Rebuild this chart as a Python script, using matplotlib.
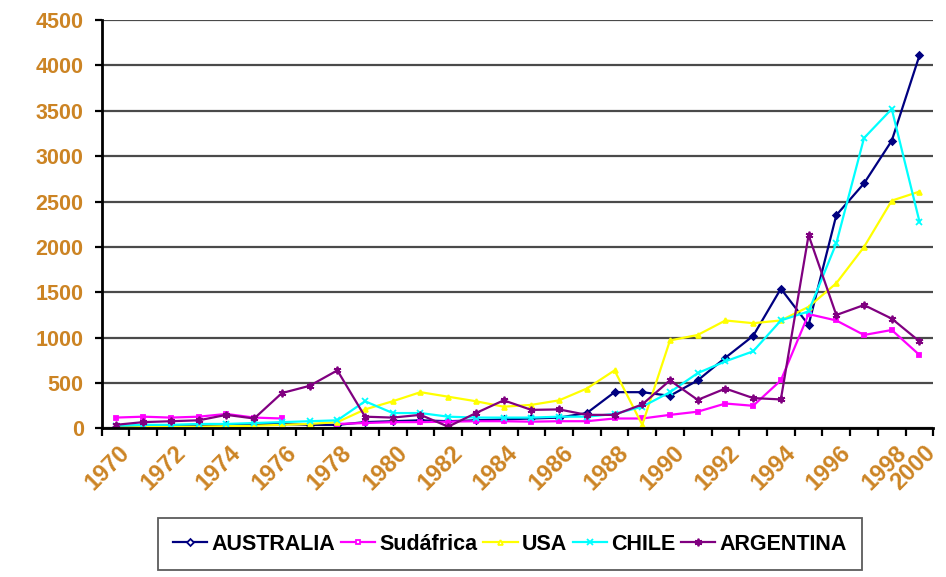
import numpy as np
import matplotlib
matplotlib.use('Agg')
import matplotlib.pyplot as plt
from matplotlib.transforms import ScaledTranslation

plt.rcParams['font.family'] = ['Liberation Sans', 'DejaVu Sans']

years = list(range(1970, 2000))
nan = np.nan

# valores (aprox.)
australia = [20, 30, 30, 40, 40, 50, 50, 40, 40, 70,
             80, 90, 80, 90, 100, 110, 120, 170, 400, 400,
             360, 530, 780, 1020, 1540, 1140, 2350, 2700, 3170, 4110]
sudafrica = [120, 130, 120, 130, 160, 120, 110, nan, 50, 60,
             70, 70, 75, 80, 80, 75, 80, 80, 110, 110,
             150, 185, 275, 250, 530, 1260, 1190, 1030, 1085, 810]
usa = [10, 15, 20, 20, 25, 30, 40, 50, 70, 210,
       300, 400, 350, 300, 240, 260, 310, 440, 640, 40,
       970, 1030, 1190, 1160, 1190, 1340, 1600, 2000, 2510, 2610]
chile = [30, 40, 40, 50, 50, 60, 70, 80, 90, 300,
         170, 170, 130, 120, 120, 120, 130, 130, 160, 240,
         400, 610, 740, 850, 1190, 1290, 2040, 3200, 3520, 2280]
argentina = [40, 70, 80, 90, 150, 110, 390, 470, 640, 130,
             120, 150, 20, 170, 310, 205, 210, 150, 150, 265,
             530, 315, 440, 335, 320, 2130, 1250, 1360, 1210, 960]

series = [
    ('AUSTRALIA', australia, '#000080', 'D', 3.5),
    ('Sudáfrica', sudafrica, '#FF00FF', 's', 3.5),
    ('USA', usa, '#FFFF00', '^', 3.5),
    ('CHILE', chile, '#00FFFF', 'x', 4.5),
    ('ARGENTINA', argentina, '#800080', (6, 2, 0), 5.5),
]

label_labels = [str(y) for y in range(1970, 1999, 2)] + ['2000']
label_pos = list(range(1970, 1999, 2)) + [1999.05]

orange = '#CC8424'

fig = plt.figure(figsize=(9.46, 5.77), dpi=100)
ax = fig.add_axes([0.1075, 0.2574, 0.8791, 0.7079])

for name, vals, col, mk, ms in series:
    ax.plot(years, vals, color=col, lw=1.6, marker=mk, ms=ms, mew=1.3, label=name)

ax.set_xlim(1969.5, 1999.5)
ax.set_ylim(0, 4500)
ax.set_yticks(range(0, 4501, 500))
ax.yaxis.grid(True, color='#4a4a4a', lw=1.6)
ax.set_axisbelow(True)

ax.set_xticks(label_pos)
ax.set_xticklabels(label_labels)
ax.set_xticks(np.arange(1969.5, 2000, 1), minor=True)
ax.tick_params(axis='x', which='major', length=0, pad=9)
ax.tick_params(axis='x', which='minor', length=6, width=1.6, direction='out')
ax.tick_params(axis='y', length=5, width=1.6, pad=8)

for lab in ax.get_xticklabels():
    lab.set_rotation(45)
    lab.set_ha('right')
    lab.set_va('top')
    lab.set_color(orange)
    lab.set_fontweight('bold')
    lab.set_fontsize(17)
    lab.set_transform(lab.get_transform() + ScaledTranslation(19 / 100, 0, fig.dpi_scale_trans))
for lab in ax.get_yticklabels():
    lab.set_color(orange)
    lab.set_fontweight('bold')
    lab.set_fontsize(15.5)

for s in ['top', 'right']:
    ax.spines[s].set_visible(False)
for s in ['left', 'bottom']:
    ax.spines[s].set_linewidth(2)
    ax.spines[s].set_color('black')

leg = fig.legend(loc='center', bbox_to_anchor=(510 / 946, 1 - 544 / 577), ncol=5,
                 frameon=True, fancybox=False, edgecolor='#333333',
                 prop={'weight': 'bold', 'size': 15.5}, handlelength=1.6,
                 handletextpad=0.2, columnspacing=0.25, borderpad=0.7,
                 borderaxespad=0)
leg.get_frame().set_linewidth(1.3)
for h in leg.legend_handles:
    h.set_markerfacecolor('white')

fig.savefig('out.png', dpi=100)
